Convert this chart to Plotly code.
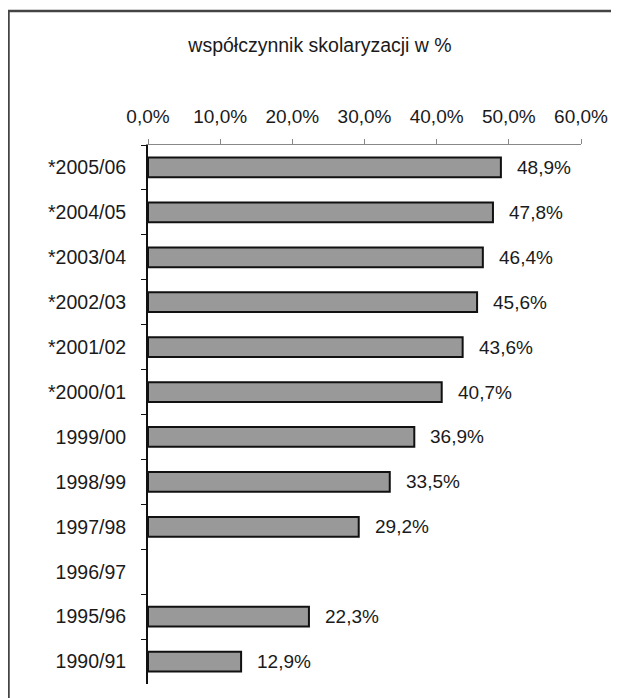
import plotly.graph_objects as go

categories = ["*2005/06", "*2004/05", "*2003/04", "*2002/03", "*2001/02", "*2000/01",
              "1999/00", "1998/99", "1997/98", "1996/97", "1995/96", "1990/91"]
values = [48.9, 47.8, 46.4, 45.6, 43.6, 40.7, 36.9, 33.5, 29.2, None, 22.3, 12.9]
tick_values = [0, 10, 20, 30, 40, 50, 60]
tick_labels = ["0,0%", "10,0%", "20,0%", "30,0%", "40,0%", "50,0%", "60,0%"]

FONT = "Liberation Sans, Arial, sans-serif"
TXT = "#1a1a1a"

# figure pixel geometry (page has an 8px body margin)
L, R, T, B = 140, 46, 137, 22
W, H = 619, 698
PW, PH = W - L - R, H - T - B

fig = go.Figure()
fig.add_trace(go.Bar(
    y=categories, x=values, orientation="h",
    marker=dict(color="#999999", line=dict(color="#111111", width=2)),
    width=0.44, hoverinfo="skip",
))

annotations = []
for c, v in zip(categories, values):
    if v is None:
        continue
    annotations.append(dict(
        x=v, y=c, xref="x", yref="y", text=f"{v:.1f}".replace(".", ",") + "%",
        showarrow=False, xanchor="left", yanchor="middle", xshift=14, yshift=0,
        font=dict(family=FONT, size=19, color=TXT),
    ))

fx = lambda px: (px - L) / PW
fy = lambda py: (H - B - py) / PH

fig.update_layout(
    width=W, height=H,
    margin=dict(l=L, r=R, t=T, b=B),
    paper_bgcolor="white", plot_bgcolor="white",
    showlegend=False,
    title=dict(text="współczynnik skolaryzacji w %", x=312/W, xanchor="center",
               y=1-37/H, yanchor="middle",
               font=dict(family=FONT, size=19.5, color=TXT)),
    annotations=annotations,
    xaxis=dict(
        side="top", range=[0, 60], tickvals=tick_values, ticktext=tick_labels,
        showgrid=False, zeroline=False,
        showline=True, linecolor="#888888", linewidth=1,
        ticks="outside", ticklen=5, tickcolor="#888888",
        ticklabelstandoff=8,
        tickfont=dict(family=FONT, size=19, color=TXT),
        fixedrange=True,
    ),
    yaxis=dict(
        categoryorder="array", categoryarray=categories, autorange="reversed",
        showgrid=False, zeroline=False,
        showline=True, linecolor="#111111", linewidth=2,
        ticks="outside", ticklen=5, tickcolor="#111111", tickson="boundaries",
        ticklabelstandoff=16,
        tickfont=dict(family=FONT, size=19.5, color=TXT),
        fixedrange=True,
    ),
    shapes=[
        dict(type="line", xref="paper", yref="paper",
             x0=fx(0), x1=fx(640), y0=fy(3), y1=fy(3),
             line=dict(color="#444444", width=2.5)),
        dict(type="line", xref="paper", yref="paper",
             x0=fx(0.5), x1=fx(0.5), y0=fy(3), y1=fy(720),
             line=dict(color="#444444", width=2.5)),
    ],
)

fig.write_html("out.html")
